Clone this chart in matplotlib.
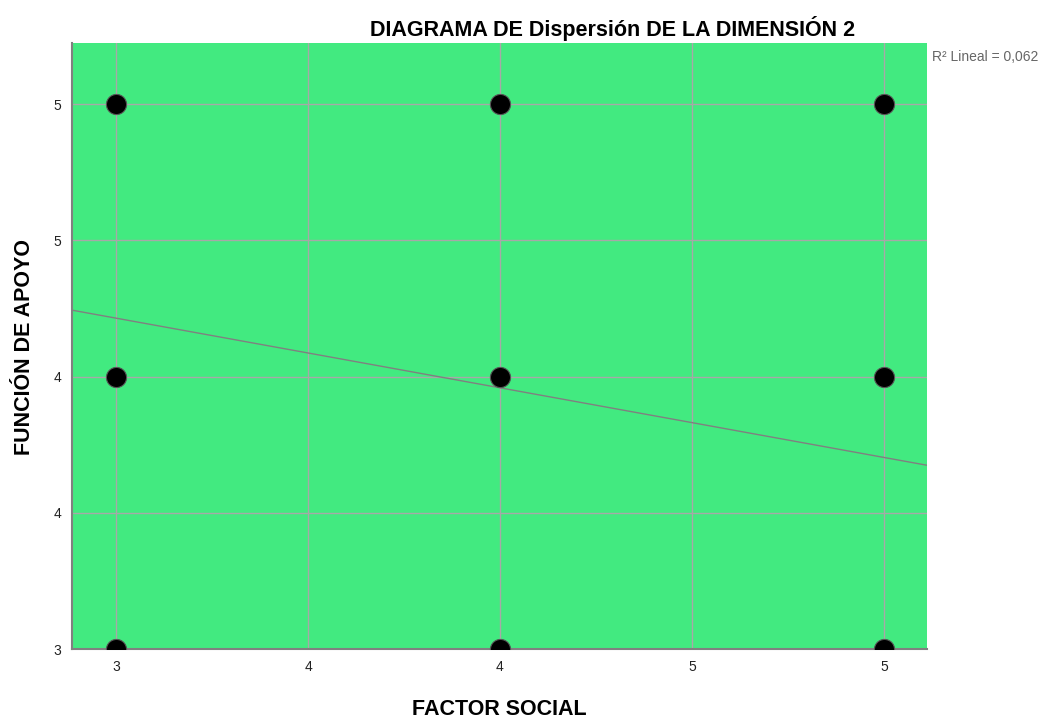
import matplotlib
matplotlib.use('Agg')
import matplotlib.pyplot as plt
import numpy as np

# Data (overlapping points drawn once)
factor_social = [3, 3, 3, 4, 4, 4, 5, 5, 5]
funcion_apoyo = [5, 4, 3, 5, 4, 3, 5, 4, 3]

# Linear fit shown in the chart
fit_intercept = 4.981
fit_slope = -0.2556
r2_label = "R² Lineal = 0,062"

tick_vals = [3, 3.5, 4, 4.5, 5]
tick_labels = ["3", "4", "4", "5", "5"]

plt.rcParams['font.family'] = ['Liberation Sans', 'DejaVu Sans']

fig = plt.figure(figsize=(10.53, 7.2), dpi=100)
ax = fig.add_axes([0.0684, 0.0986, 0.8119, 0.8417])
ax.set_facecolor('#42ea80')

xlim = (2.8854, 5.112)
ylim = (3.0, 5.224)
ax.set_xlim(*xlim)
ax.set_ylim(*ylim)

ax.set_xticks(tick_vals)
ax.set_xticklabels(tick_labels)
ax.set_yticks(tick_vals)
ax.set_yticklabels(tick_labels)
ax.tick_params(length=0, labelsize=10, colors='#222222', pad=8)
ax.grid(True, color='#a8a8a8', linewidth=1)
ax.set_axisbelow(True)

for s in ['top', 'right']:
    ax.spines[s].set_visible(False)
for s in ['left', 'bottom']:
    ax.spines[s].set_color('#808080')
    ax.spines[s].set_linewidth(1.5)

# fit line
xs = np.array(xlim)
ax.plot(xs, fit_intercept + fit_slope * xs, color='#808080', linewidth=1.0, zorder=2)

ax.scatter(factor_social, funcion_apoyo, s=210, color='black',
           edgecolors='#555555', linewidths=0.8, zorder=3)

fig.text(0.582, 0.960, "DIAGRAMA DE Dispersión DE LA DIMENSIÓN 2",
         ha='center', va='center', fontsize=15.5, fontweight='bold')
fig.text(0.4745, 0.0145, "FACTOR SOCIAL", ha='center', va='center',
         fontsize=15.5, fontweight='bold')
fig.text(0.023, 0.518, "FUNCIÓN DE APOYO", ha='center', va='center',
         rotation=90, fontsize=15.5, fontweight='bold')
fig.text(0.885, 0.921, r2_label, ha='left', va='center',
         fontsize=10, color='#666666')

fig.savefig('out.png', dpi=100)
